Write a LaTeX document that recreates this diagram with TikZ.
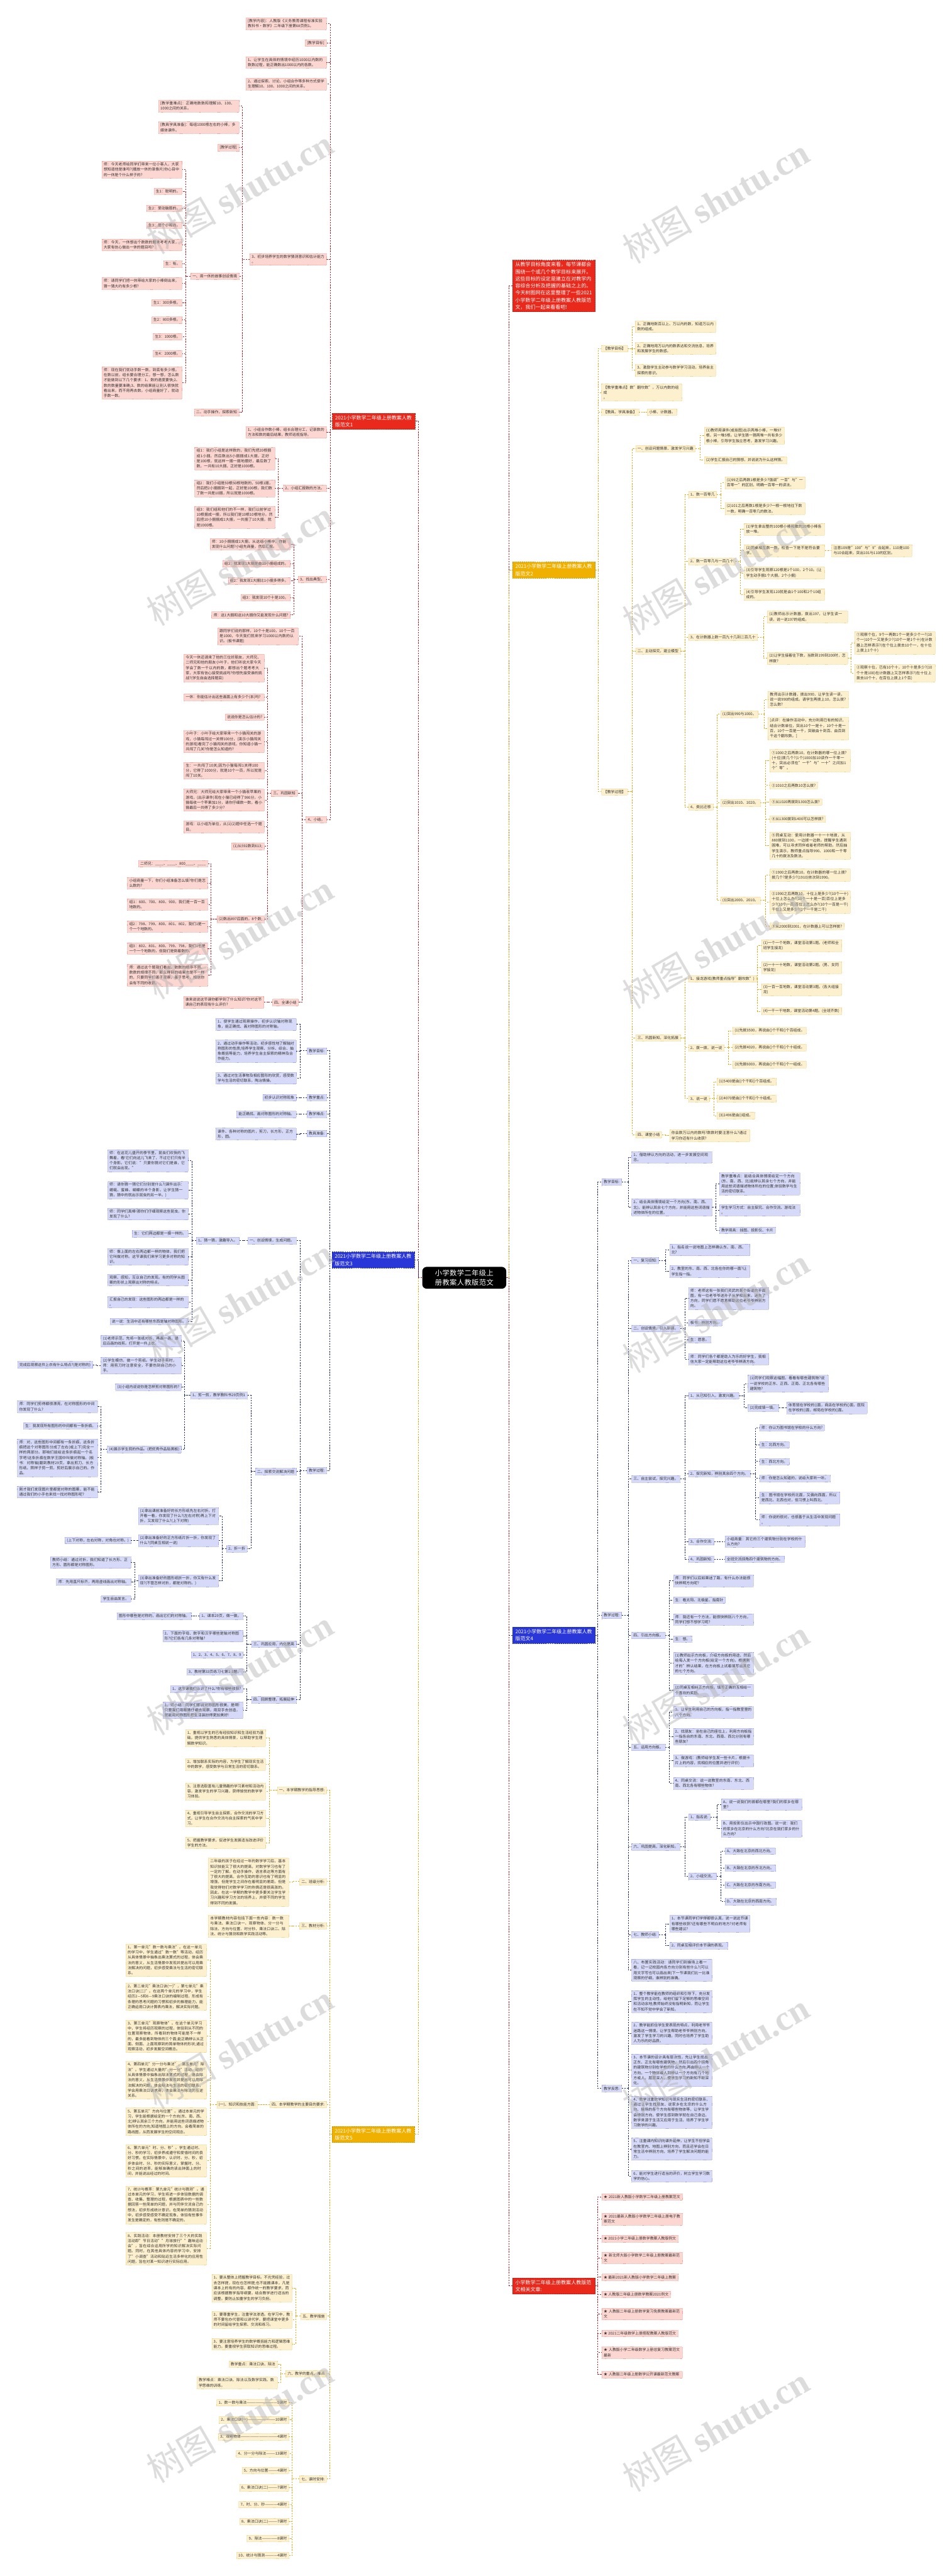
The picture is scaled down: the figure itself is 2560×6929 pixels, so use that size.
\documentclass[tikz,border=0pt]{standalone}
\usepackage{fontspec}
\setmainfont{Noto Sans CJK SC}
\newfontfamily\wmlat{Liberation Serif}
\XeTeXlinebreaklocale "zh"
\XeTeXlinebreakskip=0pt plus 1pt
\definecolor{mainR}{HTML}{E8291C}
\definecolor{mainRb}{HTML}{B81B12}
\definecolor{leafR}{HTML}{FCD6D1}
\definecolor{leafRb}{HTML}{F3A79E}
\definecolor{lineR}{HTML}{B0202A}
\definecolor{mainO}{HTML}{F0B000}
\definecolor{mainOb}{HTML}{C99200}
\definecolor{leafO}{HTML}{FDF0CE}
\definecolor{leafOb}{HTML}{F2D78E}
\definecolor{lineO}{HTML}{DDA91E}
\definecolor{mainB}{HTML}{2937D8}
\definecolor{mainBb}{HTML}{1A24A0}
\definecolor{leafB}{HTML}{D6D9F7}
\definecolor{leafBb}{HTML}{A6ACEB}
\definecolor{lineB}{HTML}{1D2A6B}
\definecolor{txt}{HTML}{333333}
\tikzset{
 lf/.style={font=\fontsize{10}{14}\selectfont, align=left, inner xsep=5pt, inner ysep=4pt, text=txt, line width=0.6pt, dash pattern=on 2pt off 1.5pt},
 lr/.style={lf, fill=leafR, draw=leafRb},
 lo/.style={lf, fill=leafO, draw=leafOb},
 lb/.style={lf, fill=leafB, draw=leafBb},
 mn/.style={font=\fontsize{13.5}{19}\selectfont, align=left, inner xsep=7pt, inner ysep=6pt, text=white, line width=1pt, dash pattern=on 3pt off 2pt, text width=208pt},
 mr/.style={mn, fill=mainR, draw=mainRb},
 mo/.style={mn, fill=mainO, draw=mainOb},
 mb/.style={mn, fill=mainB, draw=mainBb},
 ln/.style={line width=1.3pt, dash pattern=on 4pt off 3pt},
 kr/.style={ln, draw=lineR}, ko/.style={ln, draw=lineO}, kb/.style={ln, draw=lineB},
 ct/.style={fill=black, text=white, rounded corners=12pt, font=\fontsize{19}{25}\selectfont, align=center, text width=212pt, inner xsep=7pt, inner ysep=8pt},
 wm/.style={rotate=30, text=gray!60, opacity=.45, font=\fontsize{95}{95}\selectfont},
}
\newcommand\lfW[4]{\node[#1,anchor=east,text width=206pt] (#2) at (#3) {#4};}
\newcommand\lfS[4]{\node[#1,anchor=east] (#2) at (#3) {#4};}
\newcommand\rtW[4]{\node[#1,anchor=west,text width=206pt] (#2) at (#3) {#4};}
\newcommand\rtS[4]{\node[#1,anchor=west] (#2) at (#3) {#4};}
\newcommand\kidsL[4]{\draw[#1] (#2.west) -- (#2.west -| #3,0);
  \foreach \ch in {#4}{\draw[#1] (#2.west -| #3,0) |- (\ch.east);}}
\newcommand\kidsR[4]{\draw[#1] (#2.east) -- (#2.east -| #3,0);
  \foreach \ch in {#4}{\draw[#1] (#2.east -| #3,0) |- (\ch.west);}}
\begin{document}
\begin{tikzpicture}[x=1pt,y=-1pt]
\useasboundingbox (0,0) rectangle (2560,6929);
\fill[white] (0,0) rectangle (2560,6929);

% ===== center =====
\node[ct] (CT) at (1249,3437) {小学数学二年级上册教案人教版范文};

% ===== Branch A (范文1) =====
\node[mr,anchor=east] (A0) at (1117,1133) {2021小学数学二年级上册教案人教版范文1};
\lfW{lr}{A1}{878,63.5}{[教学内容]：人教版《义务教育课程标准实验教科书·数学》二年级下册第68页例1。}
\lfS{lr}{A2}{878,115.5}{[教学目标]}
\lfW{lr}{A3}{878,167.5}{1、让学生在具体的情境中经历1000以内数的数数过程，能正确数出1000以内的各数。}
\lfW{lr}{A4}{878,226}{2、通过探索、讨论、小组合作等多种方式使学生理解10、100、1000之间的关系。}
\lfS{lr}{A5}{878,697.5}{3、初步培养学生的数学猜测意识和估计能力\\。}
\lfW{lr}{A6}{878,1162.5}{1、小组合作数小棒，组长合理分工，记录数的方法和数的最后结果，教师巡视指导。}
\lfS{lr}{A7}{878,1313}{2、小组汇报数的方法。}
\lfS{lr}{A8}{878,1558.5}{3、找出典型。}
\lfS{lr}{A9}{879,2204}{4、小结。}
\kidsL{kr}{A0}{888}{A1,A2,A3,A4,A5,A6,A7,A8,A9}
\lfW{lr}{A51}{643,285}{[教学重难点]：正确地数数和理解10、100、1000之间的关系。}
\lfW{lr}{A52}{643,343}{[教具学具准备]：每组1000根左右的小棒，多媒体课件。}
\lfS{lr}{A53}{643,396.5}{[教学过程]}
\lfS{lr}{A54}{643,742.5}{一、用一休的故事创设情境}
\lfS{lr}{A55}{643,1109}{二、动手操作，探索新知}
\kidsL{kr}{A5}{652}{A51,A52,A53,A54,A55}
\lfW{lr}{a1}{490,456}{师：今天老师给同学们带来一位小客人，大家想知道他是谁吗?(播放一休的录像片)你心目中的一休是个什么样子的?}
\lfS{lr}{a2}{490,514.5}{生1：聪明的。}
\lfS{lr}{a3}{490,560.5}{生2：爱动脑筋的。}
\lfS{lr}{a4}{490,606}{生3：是个小和尚。}
\lfW{lr}{a5}{490,658.5}{师：今天，一休想出个数数的题来考考大家，大家有信心做出一休的题目吗?}
\lfS{lr}{a6}{490,710}{生：有。}
\lfW{lr}{a7}{490,762.5}{师：请同学们把一休带给大家的小棒倒出来，猜一猜大约有多少根?}
\lfS{lr}{a8}{490,814.5}{生1：300多根。}
\lfS{lr}{a9}{490,860.5}{生2：800多根。}
\lfS{lr}{a10}{490,906}{生3：1000根。}
\lfS{lr}{a11}{490,951.5}{生4：2000根。}
\lfW{lr}{a12}{490,1030}{师：现在我们就动手数一数，到底有多少根。在数以前，组长要合理分工，想一想，怎么数才能做到以下几个要求：1、数的速度要快;2、数的数量要准确;3、数的结果能让别人很快就看出来，而不用再去数。小组商量好了，就动手数一数。}
\kidsL{kr}{A54}{500}{a1,a2,a3,a4,a5,a6,a7,a8,a9,a10,a11,a12}
\lfW{lr}{b1}{740,1233.5}{组1：我们小组是这样数的，我们先把20根捆成1小捆，然后数出5小捆捆成1大捆，正好是100根，就这样一捆一捆地摆好，最后数了数，一共有10大捆，正好是1000根。}
\lfW{lr}{b2}{740,1313.5}{组2：我们小组是50根50根地数的，50根1捆，然后把2小捆捆到一起，正好是100根，我们数了数一共是10捆，所以就是1000根。}
\lfW{lr}{b3}{740,1391.5}{组3：我们组和他们的不一样，我们以前学过10根捆成一捆，所以我们是10根10根地分。然后把10小捆捆成1大捆，一共捆了10大捆，就是1000根。}
\kidsL{kr}{A7}{749}{b1,b2,b3}
\lfW{lr}{c1}{781,1463.5}{师：10小捆捆成1大捆，从这组小棒中，你能发现什么问题?小组先商量，然后汇报。}
\lfS{lr}{c2}{781,1516.5}{组1：我发现1大捆是由10小捆组成的。}
\lfS{lr}{c3}{781,1562.5}{组2：我发现1大捆比1小捆多得多。}
\lfS{lr}{c4}{781,1607.5}{组3：我发现10个十是100。}
\lfS{lr}{c5}{781,1654}{师：这1大捆和这10大捆你又能发现什么问题?}
\kidsL{kr}{A8}{791}{c1,c2,c3,c4,c5}
\lfW{lr}{d1}{802,1711.5}{跟同学们说的那样，10个十是100，10个一百是1000，今天我们就来学习1000以内数的认识。(板书课题)}
\lfS{lr}{d2}{800,2133.5}{三、巩固新知}
\lfS{lr}{d3}{803,2696}{四、全课小结}
\kidsL{kr}{A9}{813}{d1,d2,d3}
\lfW{lr}{e1}{711,1797}{今天一休还请来了他的三位好朋友，大师兄、二师兄和他的朋友小叶子，他们听说大家今天学会了数一千以内的数，都想出个题考考大家，大家有信心接受挑战吗?你想先接受谁的挑战?(学生自由选择题目)}
\lfW{lr}{e2}{711,1875.5}{一休：你能估计出这些画面上有多少个(本)吗?}
\lfS{lr}{e3}{711,1929}{说说你是怎么估计的?}
\lfW{lr}{e4}{711,1994.5}{小叶子：小叶子给大家带来一个小猫闯关的游戏，小猫每闯过一关得100分，(演示小猫闯关的游戏)看完了小猫闯关的游戏，你知道小猫一共闯了几关?你是怎么知道的?}
\lfW{lr}{e5}{711,2072.5}{生：一共闯了10关;因为小猫每闯1关得100分，它得了1000分，就是10个一百，所以就是闯了10关。}
\lfW{lr}{e6}{711,2152}{大师兄：大师兄给大家带来一个小猫收苹果的游戏，(出示课件)现在小猫已经得了986分，小猫每收一个苹果加1分，请你仔细数一数，看小猫最后一共得了多少分?}
\lfW{lr}{e7}{711,2224}{游戏：以小组为单位，从(1)(2)题中任选一个题目。}
\lfS{lr}{e8}{711,2276.5}{(1)从592数到613;}
\lfS{lr}{e9}{711,2472.5}{(2)数出897后面的。8个数;}
\kidsL{kr}{d2}{720}{e1,e2,e3,e4,e5,e6,e7,e8,e9}
\lfS{lr}{f1}{559,2322.5}{二师兄：\_\_\_\_、\_\_\_\_、800\_\_\_\_、\_\_\_\_}
\lfW{lr}{f2}{559,2375}{小组商量一下，你们小组准备怎么填?你们是怎么数的?}
\lfW{lr}{f3}{559,2433}{组1：600、700、800、900，我们是一百一百地数的。}
\lfW{lr}{f4}{559,2492}{组2：798、799、800、801、802，我们1是一个一个地数的。}
\lfW{lr}{f5}{559,2551}{组3：802、801、800、799、798，我们1也是一个一个地数的，但我们是倒着数的。}
\lfW{lr}{f6}{559,2623}{师：通过这个题我们看出，数数的顺序不同、数数的规律不同，那么得到的结果也是不一样的，只要同学们善于观察，善于思考，相信你会有不同的收获。}
\kidsL{kr}{e9}{568}{f1,f2,f3,f4,f5,f6}
\lfW{lr}{g1}{710,2695.5}{谁来说说这节课你都学到了什么知识?你对这节课自己的表现有什么评价?}
\kidsL{kr}{d3}{720}{g1}

% ===== Branch B (范文3) =====
\node[mb,anchor=east] (B0) at (1116,3389) {2021小学数学二年级上册教案人教版范文3};
\lfS{lb}{B1}{879,2826.5}{教学目标:}
\lfS{lb}{B2}{879,2952}{教学重点:}
\lfS{lb}{B3}{879,2997}{教学难点:}
\lfS{lb}{B4}{879,3049}{教具准备:}
\lfS{lb}{B5}{879,3955.5}{教学过程:}
\kidsL{kb}{B0}{887}{B1,B2,B3,B4,B5}
\lfW{lb}{B11}{797,2755}{1、使学生通过观察操作，初步认识轴对称现象，能正确找、画对称图形的对称轴。}
\lfW{lb}{B12}{797,2827}{2、通过动手操作等活动，初步感性地了解轴对称图形的性质;培养学生观察、分析、综合、抽象概括等能力，培养学生自主探索的精神及合作能力。}
\lfW{lb}{B13}{797,2900}{3、通过对生活事物及相应图形的欣赏，感受数学与生活的密切联系，陶冶情操。}
\kidsL{kb}{B1}{807}{B11,B12,B13}
\lfS{lb}{B21}{797,2952}{初步认识对称现象}
\kidsL{kb}{B2}{807}{B21}
\lfS{lb}{B31}{797,2997}{能正确找、画对称图形的对称轴。}
\kidsL{kb}{B3}{807}{B31}
\lfW{lb}{B41}{797,3050}{课件、各种对称的图片，剪刀，长方形，正方形，圆。}
\kidsL{kb}{B4}{807}{B41}
\lfS{lb}{B51}{797,3337}{一、创设情境，生成问题。}
\lfS{lb}{B52}{797,3958}{二、探索交流解决问题}
\lfS{lb}{B53}{797,4422}{三、巩固应用，内化提高}
\lfS{lb}{B54}{797,4572}{四、回顾整理，拓展延伸}
\kidsL{kb}{B5}{807}{B51,B52,B53,B54}
\lfS{lb}{B511}{644,3337}{1、猜一猜，激趣导入。}
\kidsL{kb}{B51}{655}{B511}
\lfW{lb}{h1}{506,3121.5}{师：在这花儿盛开的季节里，昆虫们欢快的飞舞着，看!它们向这儿飞来了，不过它们只有半个身影。它们说："只要你猜对它们是谁，它们就会出现。"}
\lfW{lb}{h2}{506,3201}{师：请你猜一猜它们分别是什么?(课件出示：蜻蜓、蜜蜂、蝴蝶的半个身影，让学生猜一猜，猜中的就出示昆虫的另一半。)}
\lfW{lb}{h3}{506,3265.5}{师：同学们真棒!那你们仔细观察这些昆虫，你发现了什么?}
\lfS{lb}{h4}{506,3318.5}{生：它们两边都是一摸一样的。}
\lfW{lb}{h5}{506,3380}{师：像上面的左右两边都一样的物体，我们把它叫做对称。这节课我们来学习更多对称的知识。}
\lfW{lb}{h6}{506,3442.5}{观察、感知，互议自己的发现。有的同学从图案的形状上观察出对称的特点。}
\lfW{lb}{h7}{506,3502}{汇报自己的发现：这些图形的两边都是一样的\\。}
\lfS{lb}{h8}{506,3554}{说一说：生活中还有哪些东西是轴对称图形。}
\kidsL{kb}{B511}{516}{h1,h2,h3,h4,h5,h6,h7,h8}
\lfS{lb}{B521}{665,3753}{1、剪一剪，教学教科书29页例1}
\lfS{lb}{B522}{665,4166}{2、折一折}
\kidsL{kb}{B52}{675}{B521,B522}
\lfW{lb}{i1}{488,3607}{(1)老师示范，先将一张纸对折，再画一画，最后沿画的线剪。打开是一件上衣。}
\lfW{lb}{i2}{488,3673}{(2)学生模仿，做一个剪纸。学生动手剪时，师：用剪刀时注意安全，不要伤到自己的小手。}
\lfS{lb}{i3}{488,3730.5}{(3)小组内说说你是怎样剪对称图形的?}
\lfS{lb}{i4}{488,3898.5}{(4)展示学生剪的作品。(把优秀作品贴黑板)}
\kidsL{kb}{B521}{497}{i1,i2,i3,i4}
\lfS{lb}{i21}{249,3671}{完成后观察这件上衣有什么特点?(是对称的)}
\kidsL{kb}{i2}{259}{i21}
\lfW{lb}{j1}{263,3783.5}{师：同学们剪得都很漂亮，在对称图形的中间你发现了什么?}
\lfS{lb}{j2}{263,3835.5}{生：我发现所有图形的中间都有一条折痕。}
\lfW{lb}{j3}{263,3921}{师：对，这些图形中间都有一条折痕，这条折痕把这个对称图形分成了左右(或上下)完全一样的两部分。那咱们能给这条折痕起一个名字吧!这条折痕在数学王国中叫做对称轴。(板书：对称轴)翻到教材29页，拿出剪刀、长方形纸，照样子剪一剪，剪好后展示自己的。作品。}
\lfW{lb}{j4}{263,4013}{刚才我们发现图片里都是对称的图案，能不能通过我们的小手也来找一找对称图形呢?}
\kidsL{kb}{i4}{271}{j1,j2,j3,j4}
\lfW{lb}{k1}{588,4078}{(1)拿出课前准备好的长方形纸先左右对折，打开看一看，你发现了什么?(左右对称)再上下对折，又发现了什么?(上下对称)}
\lfW{lb}{k2}{588,4144}{(2)拿出准备好的正方形纸片折一折，你发现了什么?(同桌互相说一说)}
\lfW{lb}{k3}{588,4252}{(3)拿出准备好的圆形纸折一折，你又有什么发现?(不管怎样对折，都是对称的。)}
\kidsL{kb}{B522}{598}{k1,k2,k3}
\lfS{lb}{k21}{352,4143}{(上下对称，左右对称，对角也对称。)}
\kidsL{kb}{k2}{362}{k21}
\lfW{lb}{l1}{352,4202.5}{教师小结：通过对折，我们知道了长方形、正方形、圆形都是对称图形。}
\lfS{lb}{l2}{352,4255}{师：先用直尺标齐，再用虚线画出对称轴。}
\lfS{lb}{l3}{352,4301}{学生自由发言。}
\kidsL{kb}{k3}{362}{l1,l2,l3}
\lfS{lb}{m1}{654,4347}{1、课本29页，做一做。}
\lfW{lb}{m2}{654,4400.5}{2、下面的字母、数字和汉字哪些是轴对称图形?它们各有几条对称轴?}
\lfS{lb}{m3}{654,4451}{1、2、3、4、5、6、7、8、9}
\lfS{lb}{m4}{654,4497}{3、教材第33页练习七第1-3题。}
\kidsL{kb}{B53}{664}{m1,m2,m3,m4}
\lfS{lb}{m11}{515,4347}{图形中哪些是对称的，画出它们的对称轴。}
\kidsL{kb}{m1}{524}{m11}
\lfS{lb}{n1}{654,4543}{1、这节课我们认识了什么?你有哪些收获?}
\lfW{lb}{n2}{654,4600}{2、师小结：同学们都说对称图形很美，是啊!只要我们用眼睛仔细去观察，用双手去创造，就能用对称图形把生活装扮得更加美好!}
\kidsL{kb}{B54}{664}{n1,n2}

% ===== Branch C (范文5) =====
\node[mo,anchor=east] (C0) at (1116,5741) {2021小学数学二年级上册教案人教版范文5};
\lfS{lo}{C1}{879,4815.5}{一、本学期教学的指导思想:}
\lfS{lo}{C2}{879,5061}{二、班级分析:}
\lfS{lo}{C3}{879,5180}{三、教材分析:}
\lfS{lo}{C4}{879,5661}{四、本学期教学的主要目的要求:}
\lfS{lo}{C5}{879,6230}{五、教学措施}
\lfS{lo}{C6}{879,6384.5}{六、教学的重点、难点}
\lfS{lo}{C7}{879,6668}{七、课时安排:}
\kidsL{ko}{C0}{887}{C1,C2,C3,C4,C5,C6,C7}
\lfW{lo}{o1}{715,4675}{1、重视以学生的已有经验知识和生活经验为基础，提供学生熟悉的具体情景，以帮助学生理解数学知识。}
\lfW{lo}{o2}{715,4746}{2、增加联系实际的内容，为学生了解现实生活中的数学，感受数学与日常生活的密切联系。}
\lfW{lo}{o3}{715,4818.5}{3、注意选取富有儿童情趣的学习素材和活动内容，激发学生的学习兴趣，获得愉悦的数学学习体验。}
\lfW{lo}{o4}{715,4891}{4、重视引导学生自主探索，合作交流的学习方式，让学生在合作交流与自主探索的气氛中学习。}
\lfW{lo}{o5}{715,4956.5}{5、把握教学要求，促进学生发展适当改进评价学生的方法。}
\kidsL{ko}{C1}{725}{o1,o2,o3,o4,o5}
\lfW{lo}{p1}{777,5062.5}{二年级的孩子在经过一年的数学学习后，基本知识技能又了很大的提高，对数学学习也有了一定的了解。在动手操作，语言表达等方面有了很大的提高，合作互助的意识也有了明显的增强，但是学生之间存在着明显的差距。但是我觉得他们对数学学习的热情还是很高涨的。因此，在这一学期的教学中更多要关注学生学习兴趣和学习方法的培养上，并使不同的学生得到不同的发展。}
\kidsL{ko}{C2}{787}{p1}
\lfW{lo}{q1}{777,5181}{本学期教材内容包括下面一些内容：数一数与乘法、乘法口诀一、观察物体、分一分与除法、方向与位置、时分秒、乘法口诀二、除法、统计与猜测和数学实践活动等。}
\kidsL{ko}{C3}{787}{q1}
\lfS{lo}{C41}{693,5661}{(一)、知识和技能方面:}
\kidsL{ko}{C4}{705}{C41}
\lfW{lo}{r1}{555,5272.5}{1、第一单元"数一数与乘法"。在这一单元的学习中，学生通过"数一数"等活动，经历从具体情景中抽象出乘法算式的过程，体会乘法的意义，从生活情景中发现并提出可以用乘法解决的问题，初步感受乘法与生活的密切联系。}
\lfW{lo}{r2}{555,5370.5}{2、第二单元"乘法口诀(一)"，第七单元"乘法口诀(二)"。在这两个单元的学习中，学生经历2—5和6—9乘法口诀的编制过程，形成有条理的思考问题的习惯和初步的推理能力，能正确运用口诀计算表内乘法，解决实际问题。}
\lfW{lo}{r3}{555,5477}{3、第三单元"观察物体"。在这个单元学习中，学生将经历观察的过程，体验到从不同的位置观察物体，所看到的物体可能是不一样的，最多能看到物体的三个面;能正确辨认从正面、侧面、上面观察到的简单物体的形状;通过观察活动，初步发展空间概念。}
\lfW{lo}{r4}{555,5595}{4、第四单元"分一分与乘法"，第五单元"除法"。学生通过大量的"分一分"活动，经历从具体情景中抽象出除法算式的过程，体会除法的意义，从生活情景中发现并提出可以用除法解决的问题，体会除法与生活的密切联系，学会用乘法口诀求商，体会乘法与除法的互逆关系。}
\lfW{lo}{r5}{555,5706.5}{5、第五单元"方向与位置"。通过本单元的学习，学生能根据给定的一个方向(东、南、西、北)辨认其余三个方向，并能用这些词语描述物体所在的方向;知道地图上的方向，会看简单的路线图，从而发展学生的空间观念。}
\lfW{lo}{r6}{555,5812}{6、第六单元"时、分、秒"。学生通过时、分、秒的学习，初步养成遵守和爱惜时间的良好习惯。在实际情景中，认识时、分、秒，初步体会时、分、秒的实际意义，掌握时、分、秒之间的进率，能够准确的读出钟面上的时间，并能说出经过的时间。}
\lfW{lo}{r7}{555,5930.5}{7、统计与概率：第九单元"统计与猜测"。通过本单元的学习，学生将进一步体验数据的调查、收集、整理的过程，根据图表中的一些数据回答一些简单的问题，并与同伴交流自己的想法，初步形成统计意识。在简单的猜测活动中，初步感受感受不确定现象，体验有些事件发生是确定的，有些则是不确定的。}
\lfW{lo}{r8}{555,6048.5}{8、实践活动：本册教材安排了三个大的实践活动即"节日活动""月球旅行""趣味运动会"，旨在综合运用所学的知识解决实际问题。同时，在其他具体内容的学习中，安排了"小调查"活动和贴近生活多样化的应用性问题，旨在对某一知识进行实际应用。}
\kidsL{ko}{C41}{565}{r1,r2,r3,r4,r5,r6,r7,r8}
\lfW{lo}{s1}{786,6154.5}{1、要从整体上把握教学目标。不光凭经验，过去怎样提，现在也怎样提;也不能搬课本，凡是课本上的有的内容，都作统一的教学要求，而应该根据教学指导纲要，结合教学进行适当的调整。要防止加重学生的学习负担。}
\lfW{lo}{s2}{786,6239.5}{2、要尊重学生，注重学法渗透。在学习中，教师不要包办代替和以讲代学，要把课堂中更多的时间留给学生探索、交流和练习。}
\lfW{lo}{s3}{786,6305}{3、要注意培养学生的数学概括能力和逻辑思维能力。要重视学生获取知识的思维过程。}
\kidsL{ko}{C5}{796}{s1,s2,s3}
\lfS{lo}{t1}{746,6359}{教学重点：乘法口诀、除法}
\lfW{lo}{t2}{746,6409}{教学难点：乘法口诀、除法以及数学实践、数学思维的训练。}
\kidsL{ko}{C6}{755}{t1,t2}
\lfS{lo}{u1}{777,6463}{1、数一数与乘法——————————5课时}
\lfS{lo}{u2}{777,6508.5}{2、乘法口诀(一)—————————10课时}
\lfS{lo}{u3}{777,6554.5}{3、观察物体————————————4课时}
\lfS{lo}{u4}{777,6600}{4、分一分与除法———13课时}
\lfS{lo}{u5}{777,6645}{5、方向与位置———4课时}
\lfS{lo}{u6}{777,6691}{6、乘法口诀(二)———7课时}
\lfS{lo}{u7}{777,6737}{7、时、分、秒————4课时}
\lfS{lo}{u8}{777,6782}{8、乘法口诀(二)———7课时}
\lfS{lo}{u9}{777,6827.5}{9、除法—————8课时}
\lfS{lo}{u10}{777,6873.5}{10、统计与猜测————4课时}
\kidsL{ko}{C7}{786}{u1,u2,u3,u4,u5,u6,u7,u8,u9,u10}

% ===== Right intro =====
\node[mr,anchor=west] (I0) at (1379,769) {从教学目标角度来看，每节课都会围绕一个或几个教学目标来展开。这些目标的设定是建立在对教学内容综合分析及把握的基础之上的。今天树图网在这里整理了一些2021小学数学二年级上册教案人教版范文，我们一起来看看吧!};

% ===== Branch D (范文2) =====
\node[mo,anchor=west] (D0) at (1379,1533.5) {2021小学数学二年级上册教案人教版范文2};
\rtS{lo}{D1}{1618,938}{【教学目标】}
\rtW{lo}{D2}{1618,1055.5}{【教学重难点】数"翻坎数"，万以内数的组成\\。}
\rtS{lo}{D3}{1618,1108}{【教具、学具准备】}
\rtS{lo}{D4}{1618,2129.5}{【教学过程】}
\kidsR{ko}{D0}{1609}{D1,D2,D3,D4}
\rtW{lo}{D11}{1709,878.5}{1、正确地数百以上、万以内的数，知道万以内数的组成。}
\rtW{lo}{D12}{1709,937}{2、正确地用万以内的数表达和交流信息，培养和发展学生的数感。}
\rtW{lo}{D13}{1709,996}{3、激励学生主动参与数学学习活动，培养自主探索的意识。}
\kidsR{ko}{D1}{1700}{D11,D12,D13}
\rtS{lo}{D31}{1741,1108}{小棒、计数器。}
\kidsR{ko}{D3}{1731}{D31}
\rtS{lo}{D41}{1710,1207}{一、创设问题情景、激发学习兴趣}
\rtS{lo}{D42}{1710,1751}{二、主动探究，建立模型}
\rtS{lo}{D43}{1710,2791.5}{三、巩固新知，深化拓展}
\rtS{lo}{D44}{1710,3052}{四、课堂小结}
\kidsR{ko}{D4}{1701}{D41,D42,D43,D44}
\rtW{lo}{v1}{1894,1172}{(1)教师用课件(或挂图)出示两堆小棒，一堆97根，另一堆5根。让学生猜一猜两堆一共有多少根小棒，引导学生独立思考，激发学习兴趣。}
\rtS{lo}{v2}{1894,1238}{(2)学生汇报自己的猜想，并说说为什么这样猜。}
\kidsR{ko}{D41}{1883}{v1,v2}
\rtS{lo}{D421}{1852,1330.5}{1、数一百零几}
\rtS{lo}{D422}{1852,1510}{2、数一百零几与一百几十}
\rtS{lo}{D423}{1852,1714}{3、在计数器上数一百九十几到二百几十}
\rtS{lo}{D424}{1852,2171}{4、类比迁移}
\kidsR{ko}{D42}{1842}{D421,D422,D423,D424}
\rtW{lo}{w1}{1950,1298.5}{(1)99之后再数1根是多少?强调"一百"与"一百零一"的区别，明确一百零一的读法。}
\rtW{lo}{w2}{1950,1368}{(2)101之后再数1根是多少?一根一根地往下数一数，明确一百零几的数法。}
\kidsR{ko}{D421}{1940}{w1,w2}
\rtW{lo}{x1}{2002,1423.5}{(1)学生拿出整的100根小棒和散的20根小棒各放一堆。}
\rtW{lo}{x2}{2002,1481}{(2)同桌相互数一数，检查一下是不是符合要求。}
\rtW{lo}{x3}{2002,1541}{(3)引导学生观察120根是1个100，2个10。(让学生动手捆1个大捆，2个小捆)}
\rtW{lo}{x4}{2002,1599}{(4)引导学生发现120就是由1个100和2个10组成的。}
\kidsR{ko}{D422}{1992}{x1,x2,x3,x4}
\rtW{lo}{x21}{2237,1481}{注意109是"100"与"9"合起来，110是100与10合起来，突出101与110的区别。}
\kidsR{ko}{x2}{2228}{x21}
\rtW{lo}{y1}{2064,1659}{(1)教师出示计数器，拨出197，让学生读一读，说一说197的组成。}
\rtW{lo}{y2}{2064,1770.5}{(2)让学生接着往下数，当数到199到200时，怎样拨?}
\kidsR{ko}{D423}{2054}{y1,y2}
\rtW{lo}{y21}{2299,1729}{①观察个位，9个一再数1个一是多少个一?(10个一)10个一又是多少?(10个一是1个十)在计数器上怎样表示?(在个位上拨去10个一，在十位上拨上1个十)}
\rtW{lo}{y22}{2299,1810.5}{②观察十位，已有10个十，10个十是多少?(10个十是100)在计数器上又怎样表示?(在十位上拨去10个十，在百位上拨上1个百)}
\kidsR{ko}{y2}{2290}{y21,y22}
\rtS{lo}{z1}{1938,1921}{(1)突出990与1000。}
\rtS{lo}{z2}{1938,2160}{(2)突出1010、1020。}
\rtS{lo}{z3}{1938,2422}{(3)突出2000、2010。}
\kidsR{ko}{D424}{1929}{z1,z2,z3}
\rtW{lo}{z11}{2066,1881.5}{教师出示计数器，拨出990，让学生读一读，说一说990的组成。请学生再拨上10，怎么拨?怎么数?}
\rtW{lo}{z12}{2066,1959.5}{[点评：在操作活动中，充分利用已有的知识，结合计数单位，突出10个一是十，10个十是一百，10个一百是一千，突破由十到百、由百到千这个翻坎数。]}
\kidsR{ko}{z1}{2056}{z11,z12}
\rtW{lo}{z21}{2071,2045.5}{①1000之后再数10，在计数器的哪一位上拨?(十位)拨几个?(1个)1000加10读作一千零一十，突出必须在"一千"与"一十"之间加1个"零"。}
\rtS{lo}{z22}{2071,2112.5}{②1010之后再数10怎么拨?}
\rtS{lo}{z23}{2071,2157.5}{③从1020再拨到1300怎么拨?}
\rtS{lo}{z24}{2071,2202.5}{④从1300拨到1400可以怎样拨?}
\rtW{lo}{z25}{2071,2274.5}{⑤同桌互动：使用计数器一十一十地拨，从880拨到1100，一边拨一边数。提醒学生遇到困难，可以寻求同伴或者老师的帮助。然后抽学生演示，教师重点指导990、1000和一千零几十的拨法及数法。}
\kidsR{ko}{z2}{2060}{z21,z22,z23,z24,z25}
\rtW{lo}{z31}{2071,2353.5}{①1900之后再数10，在计数器的哪一位上拨?拨几个?是多少?(1910)依次到1990。}
\rtW{lo}{z32}{2071,2426}{②1990之后再数10，十位上是多少?(10个一十)十位上怎么办?(10个一十是一百)百位上是多少?(10个一百)百位上怎么办?(10个一百是一千)千位上又是多少?(2个一千是二千)}
\rtS{lo}{z33}{2071,2491.5}{③从2000到2001，在计数器上可以怎样拨?}
\kidsR{ko}{z3}{2060}{z31,z32,z33}
\rtS{lo}{D431}{1852,2632.5}{1、接龙游戏(教师重点指导"翻坎数")}
\rtS{lo}{D432}{1852,2818}{2、拨一拨、说一说}
\rtS{lo}{D433}{1852,2955}{3、说一说}
\kidsR{ko}{D43}{1842}{D431,D432,D433}
\rtW{lo}{aa1}{2048,2544}{(1)一个一个地数，课堂活动第1题。(老师和全班学生接龙)}
\rtW{lo}{aa2}{2048,2602.5}{(2)一十一十地数，课堂活动第2题。(男、女同学接龙)}
\rtW{lo}{aa3}{2048,2661.5}{(3)一百一百地数，课堂活动第3题。(各大组接龙)}
\rtW{lo}{aa4}{2048,2720}{(4)一千一千地数，课堂活动第4题。(全班齐数)}
\kidsR{ko}{D431}{2038}{aa1,aa2,aa3,aa4}
\rtS{lo}{bb1}{1971,2772.5}{(1)先拨3500，再说由()个千和()个百组成。}
\rtS{lo}{bb2}{1971,2818}{(2)先拨4020，再说由()个千和()个十组成。}
\rtS{lo}{bb3}{1971,2863}{(3)先拨6003，再说由()个千和()个一组成。}
\kidsR{ko}{D432}{1960}{bb1,bb2,bb3}
\rtS{lo}{cc1}{1929,2909.5}{(1)5400是由()个千和()个百组成。}
\rtS{lo}{cc2}{1929,2955}{(2)4070是由()个千和()个十组成。}
\rtS{lo}{cc3}{1929,3001}{(3)2496是由()组成。}
\kidsR{ko}{D433}{1920}{cc1,cc2,cc3}
\rtW{lo}{dd1}{1801,3054.5}{你会数万以内的数吗?数数时要注意什么?通过学习你还有什么收获?}
\kidsR{ko}{D44}{1791}{dd1}

% ===== Branch E (范文4) =====
\node[mb,anchor=west] (E0) at (1379,4398.5) {2021小学数学二年级上册教案人教版范文4};
\rtS{lb}{E1}{1619,3179.5}{教学目标:}
\rtS{lb}{E2}{1619,4345}{教学过程:}
\rtS{lb}{E3}{1619,5617.5}{教学反思:}
\kidsR{kb}{E0}{1608}{E1,E2,E3}
\rtW{lb}{E11}{1699,3112.5}{1、借助辨认方向的活动，进一步发展空间观念。}
\rtW{lb}{E12}{1699,3247.5}{2、结合具体情境给定一个方向(东、南、西、北)，能辨认其余七个方向，并能用这些词语描述物体所在的位置。}
\kidsR{kb}{E1}{1690}{E11,E12}
\rtW{lb}{ee1}{1935,3184}{教学重难点：能结合具体情境给定一个方向(东、南、西、北)能辨认其余七个方向，并能用这些词语描述物体所在的位置;体验数学与生活的密切联系。}
\rtW{lb}{ee2}{1935,3255}{学生学习方式：自主探究、合作交流、游戏法\\。}
\rtS{lb}{ee3}{1935,3309}{教学用具：挂图、投影仪、卡片}
\kidsR{kb}{E12}{1925}{ee1,ee2,ee3}
\rtS{lb}{E21}{1699,3390.5}{一、复习旧知:}
\rtS{lb}{E22}{1699,3573.5}{二、创设情境，引入新课。}
\rtS{lb}{E23}{1699,3978}{三、自主尝试，探究兴趣。}
\rtS{lb}{E24}{1699,4399}{四、引出方向板。}
\rtS{lb}{E25}{1699,4700}{五、运用方向板。}
\rtS{lb}{E26}{1699,4968}{六、巩固提高，深化新知。}
\rtS{lb}{E27}{1699,5204}{七、教师小结:}
\rtW{lb}{E28}{1699,5299.5}{八、布置实践活动：请同学们到操场上看一看，记一记校园内各方向分别有些什么?(可以用文字写也可以画出来)下一节课我们比一比谁观察的仔细，谁辨别的准确。}
\kidsR{kb}{E2}{1690}{E21,E22,E23,E24,E25,E26,E27,E28}
\rtW{lb}{ff1}{1801,3362}{1、指名说一说地图上怎样确认东、南、西、北?}
\rtW{lb}{ff2}{1801,3420}{2、教室的东、南、西、北各在你的哪一面?让学生指一指。}
\kidsR{kb}{E21}{1790}{ff1,ff2}
\rtW{lb}{gg1}{1852,3492}{师：老师这有一张我们灵武的某个街道的平面图，有一位老爷爷送孙子从学校出来，迷失了方向，同学们愿不愿意帮助这位老爷爷辨别方向。}
\rtS{lb}{gg2}{1852,3557.5}{板书：辨别方向。}
\rtS{lb}{gg3}{1852,3603}{生：愿意。}
\rtW{lb}{gg4}{1852,3656}{师：同学们各个都是助人为乐的好学生，我相信大家一定能帮助这位老爷爷辨清方向。}
\kidsR{kb}{E22}{1842}{gg1,gg2,gg3,gg4}
\rtS{lb}{hh1}{1852,3754.5}{1、从已知引入，激发兴趣。}
\rtS{lb}{hh2}{1852,3964}{2、探究新知，辨别其余四个方向。}
\rtS{lb}{hh3}{1852,4147}{3、合作交流:}
\rtS{lb}{hh4}{1852,4194}{4、巩固新知:}
\kidsR{kb}{E23}{1842}{hh1,hh2,hh3,hh4}
\rtW{lb}{ii1}{2012,3721.5}{(1)同学们观察这幅图，看看有哪些建筑物?说一说学校的正东、正西、正南、正北各有哪些建筑物?}
\rtS{lb}{ii2}{2012,3786.5}{(2)完成填一填。}
\kidsR{kb}{hh1}{2002}{ii1,ii2}
\rtW{lb}{ii21}{2116,3786.5}{体育馆在学校的()面，商店在学校的()面，医院在学校的()面，邮局在学校的()面。}
\kidsR{kb}{ii2}{2105}{ii21}
\rtS{lb}{jj1}{2043,3840}{师：你认为图书馆在学校的什么方向?}
\rtS{lb}{jj2}{2043,3886.5}{生：北西方向。}
\rtS{lb}{jj3}{2043,3931}{生：西北方向。}
\rtS{lb}{jj4}{2043,3976.5}{师：你是怎么知道的，说给大家听一听。}
\rtW{lb}{jj5}{2043,4028.5}{生：图书馆在学校的北面，又偏向西面，所以是西北、北西也对，但习惯上叫西北。}
\rtW{lb}{jj6}{2043,4088}{师：你说的很对，也很善于从生活中发现问题\\。}
\kidsR{kb}{hh2}{2033}{jj1,jj2,jj3,jj4,jj5,jj6}
\rtW{lb}{kk1}{1950,4146.5}{小组商量：其它的三个建筑物分别在学校的什么方向?}
\kidsR{kb}{hh3}{1935}{kk1}
\rtS{lb}{kk2}{1950,4194}{全班交流拐角四个建筑物的方向。}
\kidsR{kb}{hh4}{1935}{kk2}
\rtW{lb}{ll1}{1811,4252}{师：同学们以后如果迷了路，有什么办法能很快辨明方向呢?}
\rtS{lb}{ll2}{1811,4304}{生：看太阳、北极星、指南针}
\rtW{lb}{ll3}{1811,4356}{师：我还有一个方法，能很快辨别八个方向，同学们想不想学习呢?}
\rtS{lb}{ll4}{1811,4408.5}{生：想。}
\rtW{lb}{ll5}{1811,4474}{(1)教师出示方向板，介绍方向板的用途，然后给每人发一个方向板(给定一个方向)，根据刚才的"辨认结果，在方向板上试着填写出其它的七个方向。}
\rtW{lb}{ll6}{1811,4546.5}{(2)同桌互相纠正方向板，填写正确的互相给一个喜欢的奖励。}
\kidsR{kb}{E24}{1801}{ll1,ll2,ll3,ll4,ll5,ll6}
\rtW{lb}{mm1}{1811,4606}{1、让学生利用自己的方向板，指一指教室里的八个方向。}
\rtW{lb}{mm2}{1811,4671}{2、找朋友：坐在自己的座位上，利用方向板指一指各自的东南、东北、西南、西北分别有哪些朋友?}
\rtW{lb}{mm3}{1811,4736}{3、做游戏：(教师给学生发一些卡片，根据卡片上的内容，找相应的位置并进行评价)}
\rtW{lb}{mm4}{1811,4796.5}{4、同桌交流：说一说教室的东南、东北、西南、西北各有哪些物体?}
\kidsR{kb}{E25}{1801}{mm1,mm2,mm3,mm4}
\rtS{lb}{nn1}{1852,4887.5}{1、指名说:}
\rtS{lb}{nn2}{1852,5047}{2、小组交流。}
\kidsR{kb}{E26}{1842}{nn1,nn2}
\rtW{lb}{oo1}{1940,4853.5}{A、说一说我们的首都在哪里?我们的家乡在哪里?}
\rtW{lb}{oo2}{1940,4919}{B、用投影仪出示中国行政图。说一说：我们的家乡在北京的什么方向?北京在我们家乡的什么方向?}
\kidsR{kb}{nn1}{1929}{oo1,oo2}
\rtS{lb}{pp1}{1950,4979}{A、大致在北京的西北方向。}
\rtS{lb}{pp2}{1950,5024}{B、大致在北京的东北方向。}
\rtS{lb}{pp3}{1950,5070}{C、大致在北京的东南方向。}
\rtS{lb}{pp4}{1950,5115}{D、大致在北京的西南方向。}
\kidsR{kb}{nn2}{1940}{pp1,pp2,pp3,pp4}
\rtW{lb}{qq1}{1801,5174.5}{1、本节课同学们学得都很认真，说一说这节课有哪些收获?还有哪些不明白的地方?对老师有哪些建议?}
\rtS{lb}{qq2}{1801,5233.5}{2、同桌互相评价本节课的表现。}
\kidsR{kb}{E27}{1790}{qq1,qq2}
\rtW{lb}{rr1}{1699,5383.5}{1、整个教学能在教师的组织和引导下，充分发挥学生的主动性，给他们留下足够的思维空间和活动余地;教师始终没有指明新知，而让学生在不知不觉中学会了新知。}
\rtW{lb}{rr2}{1699,5469}{2、教学能抓住学生爱表现的特点，利用老爷爷迷路这一情境，让学生帮助老爷爷辨别方向，激发了学生学习的兴趣，同时也培养了学生助人为乐的好品质。}
\rtW{lb}{rr3}{1699,5568.5}{3、本节课的设计具有层次性，先让学生找出正东、正北有哪些建筑物，然后引出四个拐角的建筑物分别在学校的什么方向;再由辨认一个方向，一个物体或人到辨认一个方向有几个地方或人，层层深入，使学生学习的新知不断深化。}
\rtW{lb}{rr4}{1699,5681.5}{4、教学注重数学知识与现实生活的密切联系，通过让学生找朋友、说家乡在北京的什么方向、操场的各个方向有哪些物体等，让学生学会辨别方向，使学生感到数学就在自己身边，数学来源于生活又应用于生活，培养了学生学习数学的兴趣。}
\rtW{lb}{rr5}{1699,5780.5}{5、注重课内知识向课外延伸，让学生不但学会在教室内、地图上辨别方向，而且还学会在日常生活中辨别方向，培养了学生解决问题的能力。}
\rtW{lb}{rr6}{1699,5853}{6、能对学生进行适当的评价，树立学生学习数学的信心。}
\kidsR{kb}{E3}{1690}{rr1,rr2,rr3,rr4,rr5,rr6}

% ===== Branch F (相关文章) =====
\node[mr,anchor=west] (F0) at (1379,6148.5) {小学数学二年级上册教案人教版范文相关文章:};
\rtW{lr}{F1}{1619,5909}{★ 2021新人教版小学数学二年级上册教案范文}
\rtW{lr}{F2}{1619,5969}{★ 2021最新人教版小学数学二年级上册电子教案范文}
\rtS{lr}{F3}{1619,6021.5}{★ 2021小学二年级上册数学教案人教版例文}
\rtW{lr}{F4}{1619,6073}{★ 新北师大版小学数学二年级上册教案最新范文}
\rtS{lr}{F5}{1619,6125}{★ 最新2021新人教版小学数学二年级上教案}
\rtS{lr}{F6}{1619,6171.5}{★ 人教版二年级上册数学教案2021例文}
\rtW{lr}{F7}{1619,6224}{★ 人教版二年级上册数学复习免费教案最新范文}
\rtS{lr}{F8}{1619,6276}{★ 2021二年级数学上册搭配教案人教版范文}
\rtW{lr}{F9}{1619,6328}{★ 人教版小学二年级数学上册总复习教案范文最新}
\rtW{lr}{F10}{1619,6387}{★ 人教版二年级上册数学公开课最新范文教案}
\kidsR{kr}{F0}{1608}{F1,F2,F3,F4,F5,F6,F7,F8,F9,F10}

% ===== trunks =====
\draw[kr] (CT.west) -- (CT.west -| 1126,0) |- (A0.east);
\draw[kb] (CT.west -| 1126,0) |- (B0.east);
\draw[ko] (CT.west -| 1126,0) |- (C0.east);
\draw[kr] (CT.east) -- (CT.east -| 1370,0) |- (I0.west);
\draw[ko] (CT.east -| 1370,0) |- (D0.west);
\draw[kb] (CT.east -| 1370,0) |- (E0.west);
\draw[kr] (CT.east -| 1370,0) |- (F0.west);

% ===== watermarks =====
\foreach \yy in {515,1515,2520,3500,4500,5505,6510}{
  \node[wm] at (645,\yy) {树图 {\wmlat\bfseries shutu.cn}};
  \node[wm] at (1925,\yy+25) {树图 {\wmlat\bfseries shutu.cn}};
}
\end{tikzpicture}
\end{document}
